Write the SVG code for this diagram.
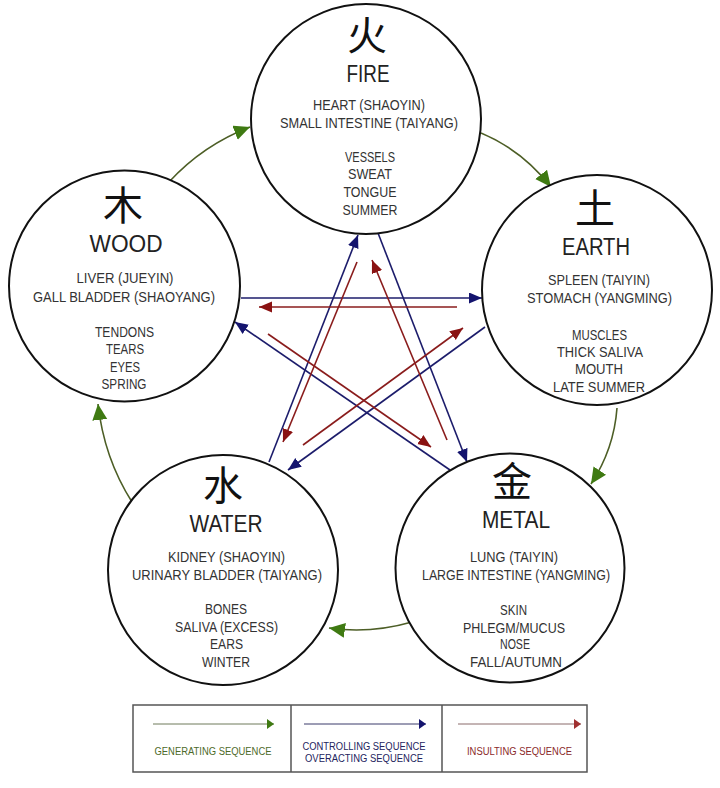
<svg xmlns="http://www.w3.org/2000/svg" width="720" height="788" viewBox="0 0 720 788">
<style>
.c{fill:#fff;stroke:#111;stroke-width:2}
.k{font-family:"Noto Sans CJK SC","Noto Sans CJK JP",sans-serif;font-size:40px;fill:#111;text-anchor:middle}
.n{font-family:"Liberation Sans",Arial,sans-serif;font-size:23px;fill:#222;text-anchor:middle}
.t{font-family:"Liberation Sans",Arial,sans-serif;font-size:14px;fill:#333;text-anchor:middle}
.lg{font-family:"Liberation Sans",Arial,sans-serif;font-size:10px;text-anchor:middle}
.gen{fill:none;stroke:#4d5e26;stroke-width:1.6}
.ctl{fill:none;stroke:#1c1c6b;stroke-width:1.6}
.ins{fill:none;stroke:#8a1c1c;stroke-width:1.6}
</style>
<defs>
<marker id="mg" markerUnits="userSpaceOnUse" markerWidth="20" markerHeight="20" refX="16" refY="7.5" orient="auto"><path d="M0,0 L16,7.5 L0,15 z" fill="#3f7a12"/></marker>
<marker id="mc" markerUnits="userSpaceOnUse" markerWidth="16" markerHeight="16" refX="13" refY="5.5" orient="auto"><path d="M0,0 L13,5.5 L0,11 z" fill="#14146e"/></marker>
<marker id="mi" markerUnits="userSpaceOnUse" markerWidth="16" markerHeight="16" refX="13" refY="5.5" orient="auto"><path d="M0,0 L13,5.5 L0,11 z" fill="#8a1212"/></marker>
<marker id="lmg" markerUnits="userSpaceOnUse" markerWidth="10" markerHeight="12" refX="7" refY="5" orient="auto"><path d="M0,0 L7,5 L0,10 z" fill="#3f7a12"/></marker>
<marker id="lmc" markerUnits="userSpaceOnUse" markerWidth="10" markerHeight="12" refX="7" refY="5" orient="auto"><path d="M0,0 L7,5 L0,10 z" fill="#14146e"/></marker>
<marker id="lmi" markerUnits="userSpaceOnUse" markerWidth="10" markerHeight="12" refX="7" refY="5" orient="auto"><path d="M0,0 L7,5 L0,10 z" fill="#a03030"/></marker>
</defs>
<rect width="720" height="788" fill="#fff"/>

<g id="connectors">
<path class="gen" d="M169,182 Q203,145 250,127" marker-end="url(#mg)"/>
<path class="gen" d="M481,133 Q522,150 551,187" marker-end="url(#mg)"/>
<path class="gen" d="M617,408 Q614,449 591,484" marker-end="url(#mg)"/>
<path class="gen" d="M412,622 Q370,634 329,628" marker-end="url(#mg)"/>
<path class="gen" d="M132,502 Q104,458 98,404" marker-end="url(#mg)"/>

<line class="ctl" x1="269" y1="462" x2="358" y2="235" marker-end="url(#mc)"/>
<line class="ctl" x1="378" y1="233" x2="467" y2="462" marker-end="url(#mc)"/>
<line class="ctl" x1="241" y1="298" x2="482" y2="298" marker-end="url(#mc)"/>
<line class="ctl" x1="485" y1="327" x2="288" y2="470" marker-end="url(#mc)"/>
<line class="ctl" x1="450" y1="470" x2="235" y2="322" marker-end="url(#mc)"/>

<line class="ins" x1="357" y1="262" x2="283" y2="442" marker-end="url(#mi)"/>
<line class="ins" x1="447" y1="440" x2="372" y2="260" marker-end="url(#mi)"/>
<line class="ins" x1="457" y1="307" x2="259" y2="307" marker-end="url(#mi)"/>
<line class="ins" x1="303" y1="445" x2="463" y2="328" marker-end="url(#mi)"/>
<line class="ins" x1="268" y1="334" x2="431" y2="447" marker-end="url(#mi)"/>
</g>

<g id="fire">
<circle class="c" cx="366" cy="119" r="115"/>
<text class="k" x="367" y="49.5">火</text>
<text class="n" x="368" y="82" textLength="43" lengthAdjust="spacingAndGlyphs">FIRE</text>
<text class="t" x="369" y="110" textLength="112" lengthAdjust="spacingAndGlyphs">HEART (SHAOYIN)</text>
<text class="t" x="369" y="128" textLength="178" lengthAdjust="spacingAndGlyphs">SMALL INTESTINE (TAIYANG)</text>
<text class="t" x="370" y="162" textLength="50" lengthAdjust="spacingAndGlyphs">VESSELS</text>
<text class="t" x="370" y="179" textLength="44" lengthAdjust="spacingAndGlyphs">SWEAT</text>
<text class="t" x="370" y="197" textLength="53" lengthAdjust="spacingAndGlyphs">TONGUE</text>
<text class="t" x="370" y="215" textLength="55" lengthAdjust="spacingAndGlyphs">SUMMER</text>
</g>

<g id="wood">
<circle class="c" cx="124.5" cy="286" r="115.5"/>
<text class="k" x="123" y="219.5">木</text>
<text class="n" x="126" y="252" textLength="73" lengthAdjust="spacingAndGlyphs">WOOD</text>
<text class="t" x="125" y="283" textLength="97" lengthAdjust="spacingAndGlyphs">LIVER (JUEYIN)</text>
<text class="t" x="124" y="302" textLength="182" lengthAdjust="spacingAndGlyphs">GALL BLADDER (SHAOYANG)</text>
<text class="t" x="124.5" y="337" textLength="59" lengthAdjust="spacingAndGlyphs">TENDONS</text>
<text class="t" x="125" y="354" textLength="38" lengthAdjust="spacingAndGlyphs">TEARS</text>
<text class="t" x="125" y="372" textLength="30" lengthAdjust="spacingAndGlyphs">EYES</text>
<text class="t" x="124" y="389" textLength="45" lengthAdjust="spacingAndGlyphs">SPRING</text>
</g>

<g id="earth">
<circle class="c" cx="597" cy="290" r="115"/>
<text class="k" x="595" y="222.5">土</text>
<text class="n" x="596" y="255" textLength="68" lengthAdjust="spacingAndGlyphs">EARTH</text>
<text class="t" x="599" y="285" textLength="102" lengthAdjust="spacingAndGlyphs">SPLEEN (TAIYIN)</text>
<text class="t" x="599.5" y="303" textLength="145" lengthAdjust="spacingAndGlyphs">STOMACH (YANGMING)</text>
<text class="t" x="599.5" y="340" textLength="55" lengthAdjust="spacingAndGlyphs">MUSCLES</text>
<text class="t" x="600" y="357" textLength="86" lengthAdjust="spacingAndGlyphs">THICK SALIVA</text>
<text class="t" x="599" y="374" textLength="48" lengthAdjust="spacingAndGlyphs">MOUTH</text>
<text class="t" x="599" y="392" textLength="92" lengthAdjust="spacingAndGlyphs">LATE SUMMER</text>
</g>

<g id="water">
<circle class="c" cx="223" cy="570" r="115"/>
<text class="k" x="223" y="499.5">水</text>
<text class="n" x="226" y="532" textLength="73" lengthAdjust="spacingAndGlyphs">WATER</text>
<text class="t" x="226.5" y="562" textLength="117" lengthAdjust="spacingAndGlyphs">KIDNEY (SHAOYIN)</text>
<text class="t" x="227" y="580" textLength="190" lengthAdjust="spacingAndGlyphs">URINARY BLADDER (TAIYANG)</text>
<text class="t" x="226" y="614" textLength="42" lengthAdjust="spacingAndGlyphs">BONES</text>
<text class="t" x="226.5" y="632" textLength="103" lengthAdjust="spacingAndGlyphs">SALIVA (EXCESS)</text>
<text class="t" x="226.5" y="649" textLength="33" lengthAdjust="spacingAndGlyphs">EARS</text>
<text class="t" x="226" y="667" textLength="48" lengthAdjust="spacingAndGlyphs">WINTER</text>
</g>

<g id="metal">
<circle class="c" cx="510" cy="568" r="114.5"/>
<text class="k" x="512" y="495.5">金</text>
<text class="n" x="516" y="528" textLength="68" lengthAdjust="spacingAndGlyphs">METAL</text>
<text class="t" x="514" y="562" textLength="88" lengthAdjust="spacingAndGlyphs">LUNG (TAIYIN)</text>
<text class="t" x="516" y="580" textLength="188" lengthAdjust="spacingAndGlyphs">LARGE INTESTINE (YANGMING)</text>
<text class="t" x="513.5" y="615" textLength="27" lengthAdjust="spacingAndGlyphs">SKIN</text>
<text class="t" x="514" y="633" textLength="102" lengthAdjust="spacingAndGlyphs">PHLEGM/MUCUS</text>
<text class="t" x="515" y="649" textLength="30" lengthAdjust="spacingAndGlyphs">NOSE</text>
<text class="t" x="516" y="667" textLength="92" lengthAdjust="spacingAndGlyphs">FALL/AUTUMN</text>
</g>

<g id="legend">
<rect x="133" y="705" width="454" height="67" fill="#fff" stroke="#555" stroke-width="1.5"/>
<line x1="291" y1="705" x2="291" y2="772" stroke="#555" stroke-width="1.5"/>
<line x1="442" y1="705" x2="442" y2="772" stroke="#555" stroke-width="1.5"/>
<line x1="153" y1="724" x2="274" y2="724" stroke="#6f7a5a" stroke-width="1" marker-end="url(#lmg)"/>
<line x1="304" y1="724" x2="426" y2="724" stroke="#3a3a6a" stroke-width="1" marker-end="url(#lmc)"/>
<line x1="458" y1="724" x2="581" y2="724" stroke="#8a6a6a" stroke-width="1" marker-end="url(#lmi)"/>
<text class="lg" x="213" y="755" fill="#4d6a2a" textLength="117" lengthAdjust="spacingAndGlyphs">GENERATING SEQUENCE</text>
<text class="lg" x="364" y="750" fill="#24245e" textLength="123" lengthAdjust="spacingAndGlyphs">CONTROLLING SEQUENCE</text>
<text class="lg" x="364" y="762" fill="#24245e" textLength="118" lengthAdjust="spacingAndGlyphs">OVERACTING SEQUENCE</text>
<text class="lg" x="519.5" y="755" fill="#8a2a2a" textLength="105" lengthAdjust="spacingAndGlyphs">INSULTING SEQUENCE</text>
</g>
</svg>
